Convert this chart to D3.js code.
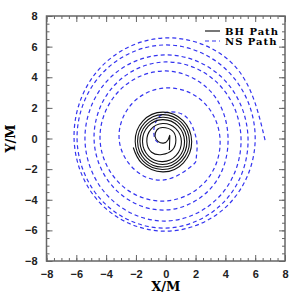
<!DOCTYPE html>
<html>
<head>
<meta charset="utf-8">
<script src="https://cdn.jsdelivr.net/npm/d3@7"></script>
<style>
  body { margin: 0; background: #fff; }
  .tick text { font-family: "Liberation Sans", Arial, sans-serif; font-weight: bold; font-size: 11px; fill: #222; }
</style>
</head>
<body>
<div id="chart"></div>
<script>
// NS path (x, y in units of M)
var nsX = [6.66, 4.68, 0, -4.50, -6.15, -4.31, 0, 4.26,
           6.00, 4.28, 0, -4.26, -5.95, -4.17, 0, 4.02,
           5.52, 3.88, 0, -3.85, -5.42, -3.82, 0, 3.69,
           5.05, 3.55, 0, -3.46, -4.81, -3.35, 0, 3.13,
           4.18, 3.04, 0, -3.12, -4.41, -3.01, 0, 2.73,
           3.64, 2.45, 0, -2.27, -3.13, -2.06, 0, 1.77,
           2.05, 2.10, 1.83, 1.16, -0.07, -0.70, -0.80, -0.70, -0.47];
var nsY = [-0.10, 4.68, 6.57, 4.50, 0, -4.31, -6.05, -4.26,
           0, 4.28, 6.11, 4.26, 0, -4.17, -5.85, -4.02,
           0, 3.88, 5.46, 3.85, 0, -3.82, -5.39, -3.69,
           0, 3.55, 5.00, 3.46, 0, -3.35, -4.67, -3.13,
           0, 3.04, 4.41, 3.12, 0, -3.01, -4.08, -2.73,
           0, 2.45, 3.30, 2.27, 0, -2.06, -2.69, -1.77,
           -1.27, -0.40, 0.69, 1.56, 1.67, 1.00, 0.36, -0.08, -0.29];

// BH path
var bhX = [-2.18, -1.61, -0.20, 1.19, 1.74, 1.16, -0.20, -1.54, -2.05,
           -1.50, -0.20, 1.07, 1.59, 1.05, -0.20, -1.42, -1.89,
           -1.39, -0.20, 0.96, 1.42, 0.94, -0.20, -1.30, -1.73,
           -1.27, -0.20, 0.85, 1.26, 0.82, -0.20, -1.19, -1.56,
           -1.15, -0.20, 0.70, 1.05, 0.66, -0.20, -1.00, -1.27,
           -0.95, -0.25, 0.45, 0.68, 0.45, -0.20, -0.60, -0.72,
           -0.50, -0.15, 0.15, 0.27, 0.26, 0.24];
var bhY = [-0.59, -1.61, -2.18, -1.59, -0.20, 1.16, 1.72, 1.14, -0.20,
           -1.50, -2.02, -1.47, -0.20, 1.05, 1.56, 1.02, -0.20,
           -1.39, -1.86, -1.36, -0.20, 0.94, 1.39, 0.90, -0.20,
           -1.27, -1.70, -1.25, -0.20, 0.82, 1.23, 0.79, -0.20,
           -1.15, -1.51, -1.10, -0.20, 0.66, 0.98, 0.60, -0.20,
           -0.90, -1.05, -0.75, -0.10, 0.50, 0.72, 0.55, 0.15,
           -0.20, -0.30, -0.10, 0.20, -0.25, -0.75];

var majorTicks = [-8, -6, -4, -2, 0, 2, 4, 6, 8];
var legendNames = ["BH Path", "NS Path"];

var W = 298, H = 298;
var margin = {left: 46.5, top: 16, right: 13, bottom: 37};
var iw = W - margin.left - margin.right, ih = H - margin.top - margin.bottom;

var svg = d3.select("#chart").append("svg")
    .attr("width", W).attr("height", H);
var g = svg.append("g").attr("transform", "translate(" + margin.left + "," + margin.top + ")");

var x = d3.scaleLinear().domain([-8, 8]).range([0, iw]);
var y = d3.scaleLinear().domain([-8, 8]).range([ih, 0]);
var minor = d3.range(-8, 8.01, 0.5);

function fmt(d) { return d < 0 ? "\u2212" + Math.abs(d) : String(d); }

function axes(make, tr, labels) {
  g.append("g").attr("transform", tr)
    .call(make.tickValues(minor).tickSize(-3).tickFormat(""))
    .call(a => a.select(".domain").remove());
  var ax = g.append("g").attr("transform", tr)
    .call(make.tickValues(majorTicks).tickSize(-6).tickPadding(labels ? 9 : 0)
      .tickFormat(labels ? fmt : ""));
  ax.select(".domain").remove();
  return ax;
}
axes(d3.axisBottom(x), "translate(0," + ih + ")", true);
axes(d3.axisTop(x), "translate(0,0)", false);
axes(d3.axisLeft(y), "translate(0,0)", true);
axes(d3.axisRight(y), "translate(" + iw + ",0)", false);
g.selectAll(".tick line").attr("stroke", "#666");

g.append("rect").attr("width", iw).attr("height", ih)
  .attr("fill", "none").attr("stroke", "#666").attr("stroke-width", 1.5);

var line = d3.line().curve(d3.curveNatural);

g.append("path")
  .attr("d", line(nsX.map((v, i) => [x(v), y(nsY[i])])))
  .attr("fill", "none").attr("stroke", "#3333f0").attr("stroke-width", 1.2)
  .attr("stroke-dasharray", "4,3");

g.append("path")
  .attr("d", line(bhX.map((v, i) => [x(v), y(bhY[i])])))
  .attr("fill", "none").attr("stroke", "#111").attr("stroke-width", 1.1);

// legend
var leg = svg.append("g").attr("transform", "translate(205,31)");
leg.append("line").attr("x1", 0).attr("x2", 15).attr("y1", 0).attr("y2", 0)
  .attr("stroke", "#777").attr("stroke-width", 2);
leg.append("line").attr("x1", 0).attr("x2", 15).attr("y1", 10).attr("y2", 10)
  .attr("stroke", "#3333f0").attr("stroke-width", 1.2).attr("stroke-dasharray", "4,3");
leg.selectAll("text").data(legendNames).enter().append("text")
  .attr("x", 20).attr("y", (d, i) => i * 10 + 4)
  .attr("font-family", "DejaVu Serif, serif").attr("font-weight", "bold")
  .attr("font-size", 10).attr("letter-spacing", 1)
  .text(d => d);

// axis titles
svg.append("text").attr("x", margin.left + iw / 2).attr("y", 291)
  .attr("text-anchor", "middle")
  .attr("font-family", "DejaVu Serif, serif").attr("font-weight", "bold")
  .attr("font-size", 13).text("X/M");
svg.append("text").attr("transform", "translate(15," + (margin.top + ih / 2) + ") rotate(-90)")
  .attr("text-anchor", "middle")
  .attr("font-family", "DejaVu Serif, serif").attr("font-weight", "bold")
  .attr("font-size", 13).text("Y/M");
</script>
</body>
</html>
